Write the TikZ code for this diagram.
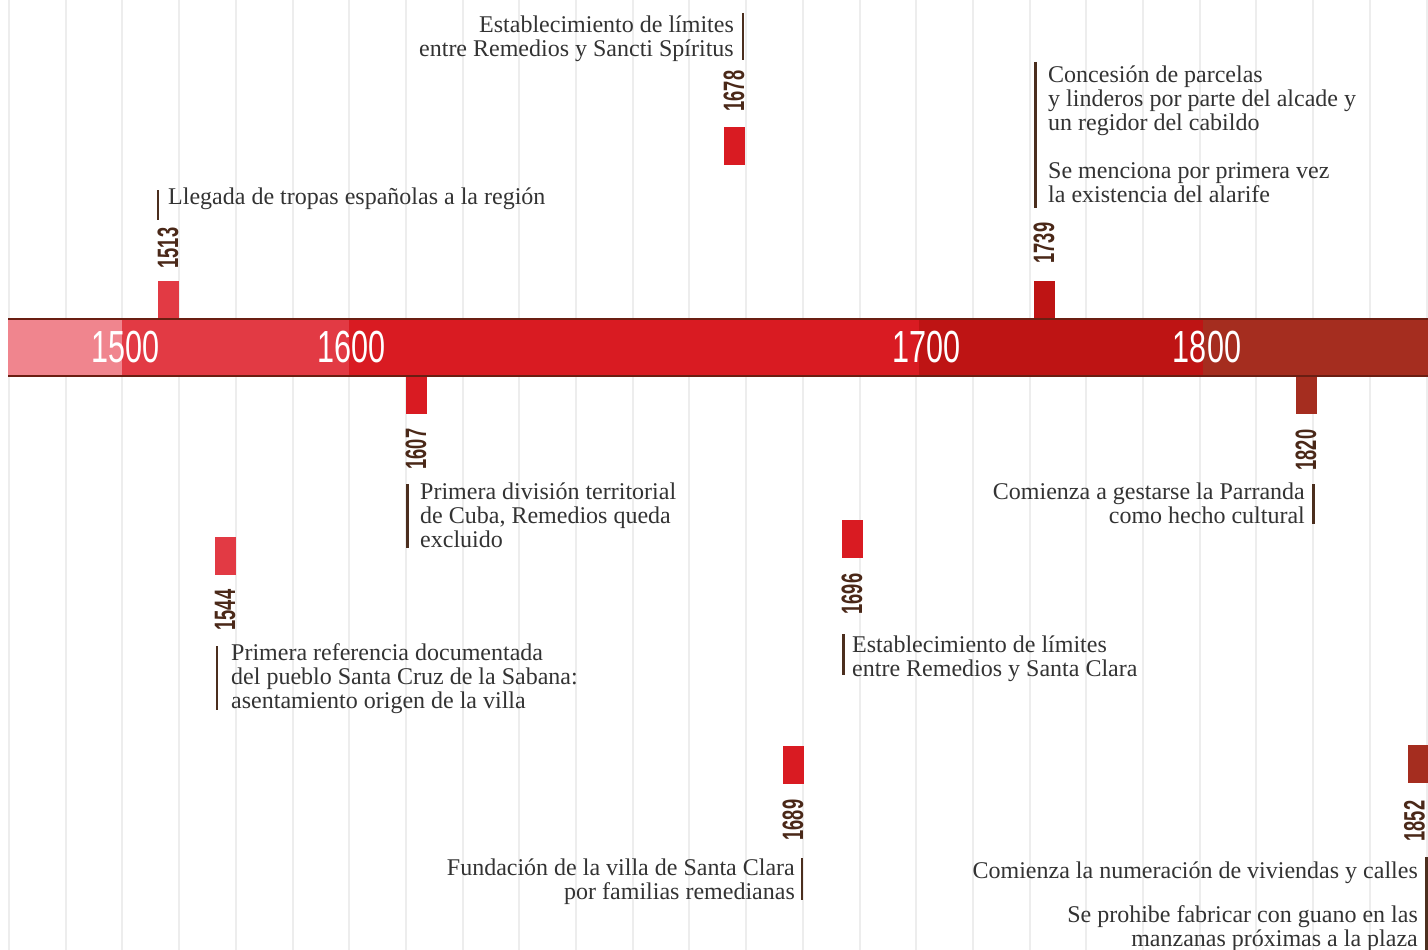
\documentclass[tikz,border=0pt]{standalone}
\usepackage{fontspec}
\setmainfont{Liberation Serif}
\newfontfamily\yearfont[FakeStretch=0.62]{Liberation Sans}
\newfontfamily\baryearfont[FakeStretch=0.68]{Liberation Sans}
\definecolor{gridgray}{HTML}{EDEDED}
\definecolor{segA}{HTML}{F0858E}
\definecolor{segB}{HTML}{E23A44}
\definecolor{segC}{HTML}{D91B22}
\definecolor{segD}{HTML}{BE1414}
\definecolor{segE}{HTML}{A52D1F}
\definecolor{barborder}{HTML}{6A1E12}
\definecolor{yearbrown}{HTML}{4A2818}
\definecolor{linebrown}{HTML}{4B2E1E}
\definecolor{textgray}{HTML}{333333}
\newcommand\tstrut{\rule{0pt}{17pt}}
\begin{document}
\begin{tikzpicture}[x=1pt,y=-1pt,
  gridline/.style={draw=gridgray,line width=2pt},
  evbox/.style={fill=#1,draw=none,inner sep=0,minimum width=21pt,minimum height=37.5pt},
  evline/.style={draw=linebrown,line width=2.8pt},
  yr/.style={rotate=90,inner sep=0,text=yearbrown,font=\yearfont\bfseries\fontsize{29.5}{29.5}\selectfont},
  baryr/.style={inner sep=0,text=white,font=\baryearfont\fontsize{45}{45}\selectfont},
  txtl/.style={anchor=north west,align=left,inner sep=0,text=textgray,font=\fontsize{24}{24}\selectfont},
  txtr/.style={anchor=north east,align=right,inner sep=0,text=textgray,font=\fontsize{24}{24}\selectfont}]
\useasboundingbox (0,0) rectangle (1428,950);
\fill[white] (0,0) rectangle (1428,950);
% grid
\foreach \i in {0,...,25} \draw[gridline] ({9+56.7*\i},0) -- ({9+56.7*\i},950);
% bar
\fill[segA] (8,320) rectangle (122,375);
\fill[segB] (122,320) rectangle (349,375);
\fill[segC] (349,320) rectangle (919,375);
\fill[segD] (919,320) rectangle (1203,375);
\fill[segE] (1203,320) rectangle (1428,375);
\draw[barborder,line width=2pt] (8,319) -- (1428,319);
\draw[barborder,line width=2pt] (8,376) -- (1428,376);
\node[baryr] (y1500) at (125.5,347.5) {1500};
\node[baryr] (y1600) at (351.5,347.5) {1600};
\node[baryr] (y1700) at (926.5,347.5) {1700};
\node[baryr] (y1800) at (1207,347.5) {1800};
% 1513
\node[evbox=segB] (m1513) at (168.5,299.5) {};
\node[yr] (l1513) at (168,248) {1513};
\draw[evline] (158,190) -- (158,220);
\node[txtl] (t1513) at (168,187) {\tstrut Llegada de tropas españolas a la región};
% 1678
\node[evbox=segC] (m1678) at (734.5,146) {};
\node[yr] (l1678) at (734,91) {1678};
\draw[evline] (743,13) -- (743,60);
\node[txtr] (t1678) at (734,15) {\tstrut Establecimiento de límites\\entre Remedios y Sancti Spíritus};
% 1739
\node[evbox=segD] (m1739) at (1044.5,299.5) {};
\node[yr] (l1739) at (1044,243) {1739};
\draw[evline] (1035.5,62) -- (1035.5,208);
\node[txtl] (t1739) at (1048,65) {\tstrut Concesión de parcelas\\y linderos por parte del alcade y\\un regidor del cabildo\\[24pt]Se menciona por primera vez\\la existencia del alarife};
% 1607
\node[evbox=segC] (m1607) at (416.5,395.5) {};
\node[yr] (l1607) at (416,449) {1607};
\draw[evline] (407.5,484) -- (407.5,548);
\node[txtl] (t1607) at (420,482) {\tstrut Primera división territorial\\de Cuba, Remedios queda\\excluido};
% 1544
\node[evbox=segB] (m1544) at (225.5,556) {};
\node[yr] (l1544) at (225,610) {1544};
\draw[evline] (217,646) -- (217,710);
\node[txtl] (t1544) at (231,643) {\tstrut Primera referencia documentada\\del pueblo Santa Cruz de la Sabana:\\asentamiento origen de la villa};
% 1696
\node[evbox=segC] (m1696) at (852.5,539) {};
\node[yr] (l1696) at (852,594) {1696};
\draw[evline] (843.5,634) -- (843.5,675);
\node[txtl] (t1696) at (852,635) {\tstrut Establecimiento de límites\\entre Remedios y Santa Clara};
% 1820
\node[evbox=segE] (m1820) at (1306.5,395.5) {};
\node[yr] (l1820) at (1306,450) {1820};
\draw[evline] (1313.5,484) -- (1313.5,524);
\node[txtr] (t1820) at (1305,482) {\tstrut Comienza a gestarse la Parranda\\como hecho cultural};
% 1689
\node[evbox=segC] (m1689) at (793.5,765) {};
\node[yr] (l1689) at (793,820) {1689};
\draw[evline] (802,858) -- (802,900);
\node[txtr] (t1689) at (795,858) {\tstrut Fundación de la villa de Santa Clara\\por familias remedianas};
% 1852
\node[evbox=segE] (m1852) at (1418.5,764) {};
\node[yr] (l1852) at (1414.5,821) {1852};
\draw[evline] (1426.5,857) -- (1426.5,950);
\node[txtr] (t1852) at (1418,861) {\tstrut Comienza la numeración de viviendas y calles\\[20pt]Se prohibe fabricar con guano en las\\manzanas próximas a la plaza};
\end{tikzpicture}
\end{document}
